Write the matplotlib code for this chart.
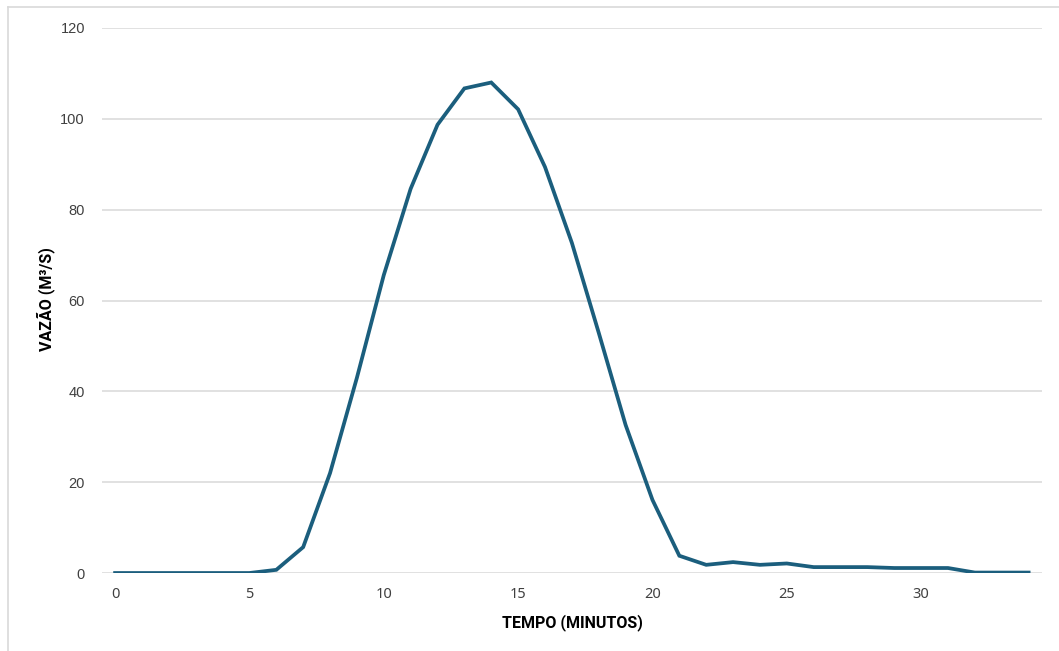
import matplotlib
matplotlib.use("Agg")
import matplotlib.pyplot as plt
from matplotlib.lines import Line2D
import numpy as np

# tempo (minutos) e vazão (m3/s)
tempo = list(range(0, 35))
vazao = [0, 0, 0, 0, 0, 0, 0.7, 5.7, 22.0, 43.0,
         65.6, 84.6, 98.7, 106.7, 108.0, 102.1, 89.4, 72.7, 52.9, 32.6,
         16.1, 3.8, 1.8, 2.4, 1.8, 2.1, 1.3, 1.3, 1.3, 1.1,
         1.1, 1.1, 0.1, 0.1, 0.1]
y_ticks = [0, 20, 40, 60, 80, 100, 120]
x_ticks = [0, 5, 10, 15, 20, 25, 30]

fig = plt.figure(figsize=(10.59, 6.51), dpi=100)
ax = fig.add_axes([0.096, 0.1198, 0.888, 0.8372])

ax.plot(tempo, vazao, color='#1b5e7d', lw=2.7, solid_joinstyle='miter')

ax.set_xlim(-0.5, 34.5)
ax.set_ylim(0, 120)
ax.set_yticks(y_ticks)
ax.set_xticks(x_ticks)
ax.grid(axis='y', color='#d9d9d9', lw=1.1)
ax.set_axisbelow(True)
for s in ax.spines.values():
    s.set_visible(False)
ax.tick_params(length=0)
ax.tick_params(axis='y', pad=12, labelsize=10.5, labelcolor='#404040')
ax.tick_params(axis='x', pad=10, labelsize=10.5, labelcolor='#404040')
for lb in ax.get_yticklabels():
    lb.set_fontfamily('Liberation Sans')
for lb in ax.get_xticklabels():
    lb.set_fontfamily('Noto Sans')

lab_font = dict(fontsize=11.5, fontweight='bold', color='black',
                family=['Liberation Sans Narrow', 'Roboto', 'DejaVu Sans'])
fig.text(0.541, 0.043, 'TEMPO (MINUTOS)', ha='center', va='center', **lab_font)
fig.text(0.043, 0.54, 'VAZÃO (M³/S)', ha='center', va='center', rotation=90, **lab_font)

# moldura cinza (esquerda e topo)
fig.add_artist(Line2D([7.5 / 1059, 7.5 / 1059], [0, 1 - 6.5 / 651], color='#d9d9d9', lw=1.2))
fig.add_artist(Line2D([7.5 / 1059, 1], [1 - 6.5 / 651, 1 - 6.5 / 651], color='#d9d9d9', lw=1.2))

fig.savefig('out.png', dpi=100)
